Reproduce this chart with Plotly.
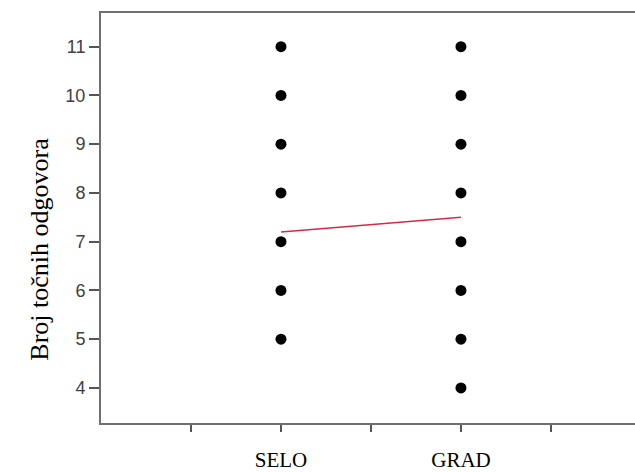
import plotly.graph_objects as go

# Data
categories = ["SELO", "GRAD"]
cat_pos = [1, 2]
selo_values = [5, 6, 7, 8, 9, 10, 11]
grad_values = [4, 5, 6, 7, 8, 9, 10, 11]
means = [7.2, 7.5]
y_ticks = [4, 5, 6, 7, 8, 9, 10, 11]
x_tickvals = [0.5, 1, 1.5, 2, 2.5]
x_ticktext = ["", "SELO", "", "GRAD", ""]
y_title = "Broj točnih odgovora"

fig = go.Figure()
fig.add_trace(go.Scatter(
    x=[cat_pos[0]] * len(selo_values), y=selo_values, mode="markers",
    marker=dict(color="black", size=11), showlegend=False, hoverinfo="skip"))
fig.add_trace(go.Scatter(
    x=[cat_pos[1]] * len(grad_values), y=grad_values, mode="markers",
    marker=dict(color="black", size=11), showlegend=False, hoverinfo="skip"))
fig.add_trace(go.Scatter(
    x=cat_pos, y=means, mode="lines",
    line=dict(color="#d42a48", width=1.5), showlegend=False, hoverinfo="skip"))

fig.update_layout(
    width=635, height=472,
    margin=dict(l=101, r=0, t=13, b=45),
    paper_bgcolor="white", plot_bgcolor="white",
    xaxis=dict(range=[0, 2.967], tickvals=x_tickvals, ticktext=x_ticktext,
               showgrid=False, zeroline=False, showline=True, linecolor="#707070",
               linewidth=2, mirror=True, ticks="outside", ticklen=7, tickwidth=1.5,
               tickcolor="#555555", ticklabelstandoff=10,
               tickfont=dict(family="Liberation Serif, Times New Roman, serif", size=21, color="black")),
    yaxis=dict(range=[3.28, 11.69], tickvals=y_ticks, showgrid=False, zeroline=False,
               showline=True, linecolor="#707070", linewidth=2, mirror=False,
               ticks="outside", ticklen=10, tickwidth=1.5, tickcolor="#555555",
               tickfont=dict(family="Liberation Sans, Arial, sans-serif", size=18, color="#404040")),
    annotations=[dict(text=y_title, textangle=-90, xref="paper", yref="paper",
                      x=(40 - 101) / 534, y=(427 - 252) / 414, xanchor="center", yanchor="middle",
                      showarrow=False,
                      font=dict(family="Liberation Serif, Times New Roman, serif", size=26, color="black"))],
)

fig.write_html("out.html", config={"displayModeBar": False},
               post_script="document.body.style.margin='0px';")
